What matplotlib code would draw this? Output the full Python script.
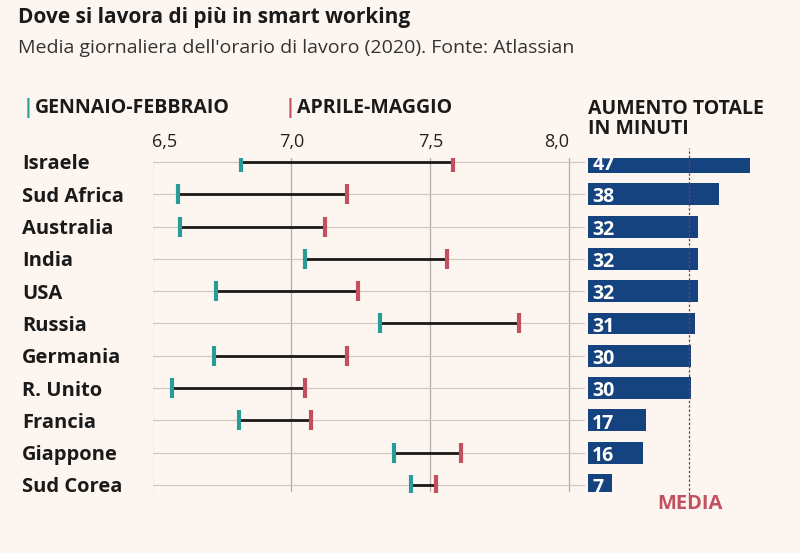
import matplotlib.pyplot as plt

plt.rcParams['font.family'] = ['Open Sans', 'DejaVu Sans']

paesi = ['Israele', 'Sud Africa', 'Australia', 'India', 'USA', 'Russia',
         'Germania', 'R. Unito', 'Francia', 'Giappone', 'Sud Corea']
gen_feb = [6.82, 6.59, 6.60, 7.05, 6.73, 7.32, 6.72, 6.57, 6.81, 7.37, 7.43]
apr_mag = [7.58, 7.20, 7.12, 7.56, 7.24, 7.82, 7.20, 7.05, 7.07, 7.61, 7.52]
aumento = [47, 38, 32, 32, 32, 31, 30, 30, 17, 16, 7]
media = 29.3
xticks = [6.5, 7.0, 7.5, 8.0]
xtick_labels = ['6,5', '7,0', '7,5', '8,0']

sfondo = '#fdf6f0'
verde = '#2a9c98'
rosso = '#c2505f'
blu = '#15437f'
W, H = 800, 553

fig = plt.figure(figsize=(W / 100, H / 100), dpi=100, facecolor=sfondo)


def px(x, y):
    # pixel (dall'alto a sinistra) -> frazione della figura
    return x / W, 1 - y / H


# --- grafico a manubrio ---
top, bot = 158, 492
ax = fig.add_axes([152.5 / W, 1 - bot / H, (585 - 152.5) / W, (bot - top) / H])
ax.set_facecolor(sfondo)
ax.set_xlim(6.5, 6.5 + 432.5 / 278)
righe = list(range(len(paesi)))
ax.set_ylim(10 + 7 / 32.3, -4 / 32.3)
for s in ax.spines.values():
    s.set_visible(False)
for v in xticks:
    ax.axvline(v, color='#b5aea8', lw=0.9, zorder=0)
for i in righe:
    ax.axhline(i, color='#cfc8c2', lw=0.9, zorder=0)
for i in righe:
    ax.plot([gen_feb[i], apr_mag[i]], [i, i], color='#1a1a1a', lw=2, zorder=2)
ax.plot(gen_feb, righe, ls='none', marker='|', ms=14, mew=3, color=verde, zorder=3)
ax.plot(apr_mag, righe, ls='none', marker='|', ms=14, mew=3, color=rosso, zorder=3)
ax.set_xticks(xticks)
ax.set_xticklabels(xtick_labels, fontsize=13, color='#222222')
ax.xaxis.tick_top()
ax.tick_params(axis='x', length=0, pad=5)
etichette = ax.get_xticklabels()
etichette[0].set_ha('left')
etichette[-1].set_ha('right')
ax.set_yticks(righe)
ax.set_yticklabels(paesi, fontsize=14.5, fontweight='bold', color='#1a1a1a', ha='left')
ax.tick_params(axis='y', length=0, pad=(152.5 - 22) * 0.72)

# --- barre aumento in minuti ---
ax2 = fig.add_axes([588 / W, 1 - bot / H, (790 - 588) / W, (bot - top) / H])
ax2.set_facecolor('none')
ax2.set_xlim(0, (790 - 588) / 3.44)
ax2.set_ylim(10 + 7 / 32.3, -4 / 32.3)
ax2.axis('off')
ax2.barh(righe, aumento, height=0.68, color=blu, zorder=2)
for i, v in zip(righe, aumento):
    ax2.text(1.2, i + 0.02, str(v), color='white', fontsize=14, fontweight='bold',
             va='center_baseline', ha='left', zorder=3)
ax2.axvline(media, ymin=-0.02, ymax=1.03, color='#8a3a45', lw=0.9, ls=(0, (2, 1.5)),
            zorder=3, clip_on=False)

# --- testi ---
fig.text(*px(18, 17), 'Dove si lavora di più in smart working', fontsize=15,
         fontweight='bold', color='#1a1a1a', va='center')
fig.text(*px(18, 48), "Media giornaliera dell'orario di lavoro (2020). Fonte: Atlassian",
         fontsize=14, color='#333333', va='center')
fig.text(*px(23, 108), '|', fontsize=14, fontweight='bold', color=verde, va='center')
fig.text(*px(35, 108), 'GENNAIO-FEBBRAIO', fontsize=14, fontweight='bold',
         color='#1a1a1a', va='center')
fig.text(*px(285, 108), '|', fontsize=14, fontweight='bold', color=rosso, va='center')
fig.text(*px(297, 108), 'APRILE-MAGGIO', fontsize=14, fontweight='bold',
         color='#1a1a1a', va='center')
fig.text(*px(588, 109), 'AUMENTO TOTALE', fontsize=14, fontweight='bold',
         color='#1a1a1a', va='center')
fig.text(*px(588, 129), 'IN MINUTI', fontsize=14, fontweight='bold',
         color='#1a1a1a', va='center')
fig.text(*px(690, 504), 'MEDIA', fontsize=14.5, fontweight='bold', color=rosso,
         va='center', ha='center')

plt.savefig('out.png', dpi=100, facecolor=sfondo)
